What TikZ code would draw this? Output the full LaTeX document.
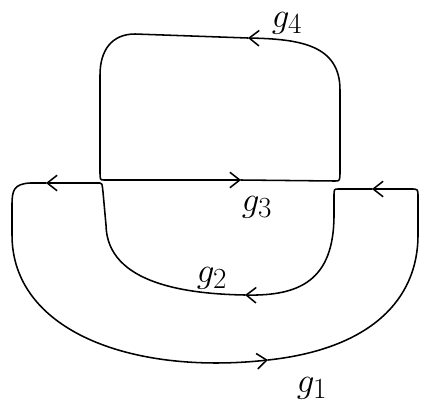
\documentclass[tikz,border=0pt]{standalone}
\usetikzlibrary{arrows.meta}
\begin{document}
\begin{tikzpicture}[
	x=0.025cm, y=-0.025cm,
	loop/.style={ line width=1.1pt, line cap=round, line join=round },
	arr/.style={ -{Straight Barb[length=7pt,width=11pt,line width=1.1pt]} },
	lab/.style={ font=\Huge, inner sep=0pt }
]
\useasboundingbox (0,0) rectangle (422,410);

% top box
\coordinate (A) at (104,180);
\coordinate (B) at (335,181);
\coordinate (G3) at (241,180);
\coordinate (G4) at (248,38);
% outer loop
\coordinate (P1) at (100,183);
\coordinate (P2) at (30,183);
\coordinate (P3) at (411,189);
\coordinate (P4) at (338,189);
\coordinate (aL) at (46,183);
\coordinate (aR) at (372,189);
\coordinate (G1) at (268,360);
\coordinate (G2) at (245,295);

\draw[loop,arr] (G4) -- (135,34) .. controls (112,34) and (100,50) .. (100,75) -- (100,170)
	.. controls (100,180) .. (A) -- (G3);
\draw[loop,arr] (G3) -- (B) .. controls (340,181) .. (340,170) -- (340,90)
	.. controls (340,45) and (300,39) .. (G4);

\draw[loop,arr] (aL) -- (P2) .. controls (14,184) and (12,190) .. (12,205) -- (12,235)
	.. controls (12,330) and (130,375) .. (G1);
\draw[loop,arr] (G1) .. controls (370,349) and (418,300) .. (418,235) -- (418,197)
	.. controls (418,189) .. (P3) -- (aR);
\draw[loop,arr] (aR) -- (P4) .. controls (334,189) .. (334,197) -- (334,215)
	.. controls (334,280) and (300,296) .. (G2);
\draw[loop,arr] (G2) .. controls (190,294) and (107,285) .. (106,225) -- (103,192)
	.. controls (102,183) .. (P1) -- (aL);

\node[lab] (g4) at (287,23) {$g_4$};
\node[lab] (g3) at (257,207) {$g_3$};
\node[lab] (g2) at (212,278) {$g_2$};
\node[lab] (g1) at (312,388) {$g_1$};

\end{tikzpicture}
\end{document}
